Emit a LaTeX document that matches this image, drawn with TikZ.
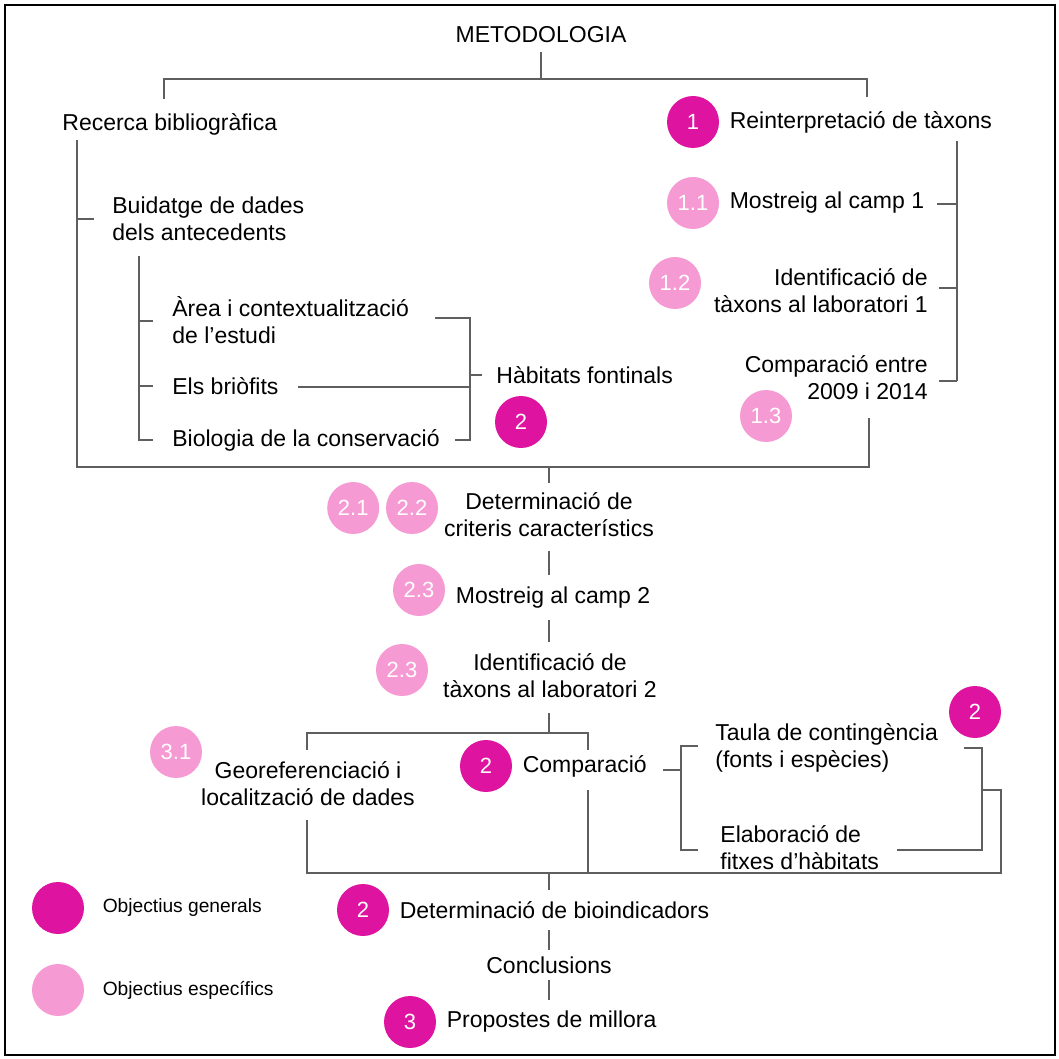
\documentclass[tikz,border=0pt]{standalone}
\usepackage{fontspec}
\setmainfont{Liberation Sans}
\usepackage{tikz}
\usetikzlibrary{positioning}

\definecolor{objdark}{RGB}{222,20,160}
\definecolor{objlight}{RGB}{246,154,212}
\definecolor{linegray}{RGB}{95,95,95}

\tikzset{
  txt/.style = {inner sep = 0pt, font = \fontsize{11.5}{13.5}\selectfont, align = left},
  legtxt/.style = {inner sep = 0pt, font = \fontsize{9.6}{11}\selectfont, anchor = west},
  objgen/.style = {circle, fill = objdark, minimum size = 26pt, inner sep = 0pt,
    text = white, font = \fontsize{11}{13}\selectfont},
  objesp/.style = {objgen, fill = objlight},
  brk/.style = {draw = linegray, line width = 0.8pt},
}

\begin{document}
\begin{tikzpicture}[x = 0.5pt, y = -0.5pt]
  \useasboundingbox (0,0) rectangle (1059,1059);
  \draw [line width = 1pt] (5,5) rectangle (1055,1055);

  % titol i primer nivell
  \node [txt] (met) at (541,35) {METODOLOGIA};
  \node [txt, anchor = west] (rec) at (62,124) {Recerca bibliogràfica};
  \node [objgen] (o1) at (693,122) {1};
  \node [txt, right = 5pt of o1] (reint) {Reinterpretació de tàxons};

  \coordinate (jtop) at (541,79);
  \draw [brk] (541,52) -- (jtop);
  \draw [brk] (164,99) |- (jtop) -| (867,97);

  % branca bibliografica
  \node [txt, anchor = west] (buid) at (112,219) {Buidatge de dades\\dels antecedents};
  \node [txt, anchor = west] (area) at (172,320) {Àrea i contextualització\\de l’estudi};
  \node [txt, anchor = west] (brio) at (172,386) {Els briòfits};
  \node [txt, anchor = west] (biol) at (172,440) {Biologia de la conservació};
  \node [txt, anchor = west] (habit) at (496,375) {Hàbitats fontinals};
  \node [objgen] (o2a) at (521,422) {2};

  \draw [brk] (77,140) -- (77,467) -- (869,467) -- (869,418);
  \draw [brk] (77,219) -- (94,219);
  \draw [brk] (139,256) -- (139,440) -- (153,440);
  \draw [brk] (139,321) -- (153,321);
  \draw [brk] (139,386) -- (153,386);

  \coordinate (jhab) at (470,375);
  \draw [brk] (435,318) -| (jhab) |- (455,440);
  \draw [brk] (298,387) -- (470,387);
  \draw [brk] (jhab) -- (482,375);

  % branca taxons
  \node [objesp] (o11) at (693,203) {1.1};
  \node [txt, right = 5pt of o11] (most1) {Mostreig al camp 1};
  \node [objesp] (o12) at (675,283) {1.2};
  \node [txt, anchor = east, align = right] (ident1) at (928,291) {Identificació de\\tàxons al laboratori 1};
  \node [txt, anchor = east, align = right] (comp1) at (928,378) {Comparació entre\\2009 i 2014};
  \node [objesp] (o13) at (766,416) {1.3};

  \draw [brk] (957,141) -- (957,381);
  \draw [brk] (937,204) -- (957,204);
  \draw [brk] (939,288) -- (957,288);
  \draw [brk] (939,381) -- (957,381);

  % eix central
  \node [txt, align = center] (crit) at (549,515) {Determinació de\\criteris característics};
  \node [objesp] (o22) at (412,508) {2.2};
  \node [objesp, left = 3pt of o22] (o21) {2.1};
  \node [txt] (most2) at (553,598) {Mostreig al camp 2};
  \node [objesp] (o23a) at (419,590) {2.3};
  \node [txt, align = center] (ident2) at (550,676) {Identificació de\\tàxons al laboratori 2};
  \node [objesp] (o23b) at (402,670) {2.3};

  \draw [brk] (549,467) -- (549,483);
  \draw [brk] (549,551) -- (549,575);
  \draw [brk] (549,620) -- (549,642);
  \draw [brk] (549,713) -- (549,733);
  \draw [brk] (307,750) |- (588,733) -- (588,750);

  % comparacio
  \node [objesp] (o31) at (176,752) {3.1};
  \node [txt, align = center] (geo) at (308,784) {Georeferenciació i\\localització de dades};
  \node [objgen] (o2b) at (486,766) {2};
  \node [txt, right = 5pt of o2b] (comp2) {Comparació};
  \node [txt, anchor = west] (taula) at (715,748) {Taula de contingència\\(fonts i espècies)};
  \node [objgen] (o2c) at (975,712) {2};
  \node [txt, anchor = west] (elab) at (720,848) {Elaboració de\\fitxes d’hàbitats};

  \draw [brk] (663,770) -- (681,770);
  \draw [brk] (698,746) -| (681,850) -- (698,850);
  \draw [brk] (964,748) -| (982,850) -- (897,850);
  \draw [brk] (982,790) -| (1001,873) -- (307,873) -- (307,820);
  \draw [brk] (588,790) -- (588,873);

  % conclusions
  \node [objgen] (o2d) at (363,910) {2};
  \node [txt, right = 5pt of o2d] (bioind) {Determinació de bioindicadors};
  \node [txt] (concl) at (549,965) {Conclusions};
  \node [objgen] (o3) at (410,1022) {3};
  \node [txt, right = 5pt of o3] (prop) {Propostes de millora};

  \draw [brk] (549,873) -- (549,890);
  \draw [brk] (549,930) -- (549,950);
  \draw [brk] (549,980) -- (549,1000);

  % llegenda
  \node [objgen] (lgen) at (58,908) {};
  \node [legtxt, right = 9pt of lgen] (lgentxt) {Objectius generals};
  \node [objesp] (lesp) at (58,990) {};
  \node [legtxt, right = 9pt of lesp] (lesptxt) {Objectius específics};
\end{tikzpicture}
\end{document}
